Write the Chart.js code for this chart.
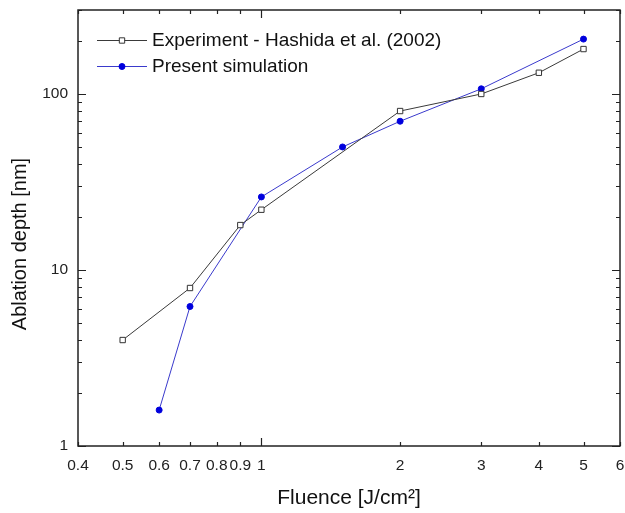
<!DOCTYPE html>
<html><head><meta charset="utf-8">
<script src="https://cdn.jsdelivr.net/npm/chart.js@4/dist/chart.umd.min.js"></script>
<style>html,body{margin:0;padding:0;background:#fff;}#wrap{width:625px;height:513px;}</style>
</head><body><div id="wrap"><canvas id="c" width="625" height="513"></canvas></div>
<script>
// ---- data ----
const expFluence = [0.5, 0.7, 0.9, 1, 2, 3, 4, 5];
const expDepth   = [4, 7.9, 18, 22, 80, 100, 132, 180];
const simFluence = [0.6, 0.7, 1, 1.5, 2, 3, 5];
const simDepth   = [1.6, 6.2, 26, 50, 70, 107, 205];
const seriesNames = ['Experiment - Hashida et al. (2002)', 'Present simulation'];
const xTickLabels = [0.4, 0.5, 0.6, 0.7, 0.8, 0.9, 1, 2, 3, 4, 5, 6];
const yTickLabels = [1, 10, 100];
const xMajorTicks = [1];
const xMinorTicks = [0.4, 0.5, 0.6, 0.7, 0.8, 0.9, 2, 3, 4, 5, 6];
const yMajorTicks = [1, 10, 100];
const yMinorTicks = [2, 3, 4, 5, 6, 7, 8, 9, 20, 30, 40, 50, 60, 70, 80, 90, 200, 300];
const xTitle = 'Fluence [J/cm\u00B2]';
const yTitle = 'Ablation depth [nm]';
const xMin = 0.4, xMax = 6, yMin = 1, yMax = 300;

const FONT = "'Liberation Sans', Arial, sans-serif";

const framePlugin = {
  id: 'frame',
  afterDatasetsDraw(chart) {
    const {ctx, chartArea: a, scales: {x, y}} = chart;
    ctx.save();
    ctx.strokeStyle = '#222';
    ctx.lineWidth = 1.5;
    ctx.strokeRect(a.left, a.top, a.right - a.left, a.bottom - a.top);
    ctx.lineWidth = 1.2;
    ctx.beginPath();
    const xt = (vals, len) => vals.forEach(v => {
      const px = Math.round(x.getPixelForValue(v)) + 0.5;
      ctx.moveTo(px, a.bottom); ctx.lineTo(px, a.bottom - len);
      ctx.moveTo(px, a.top); ctx.lineTo(px, a.top + len);
    });
    const yt = (vals, len) => vals.forEach(v => {
      const py = Math.round(y.getPixelForValue(v)) + 0.5;
      ctx.moveTo(a.left, py); ctx.lineTo(a.left + len, py);
      ctx.moveTo(a.right, py); ctx.lineTo(a.right - len, py);
    });
    xt(xMajorTicks, 8); xt(xMinorTicks, 4);
    yt(yMajorTicks, 8); yt(yMinorTicks, 4);
    ctx.stroke();
    ctx.restore();
  },
  afterDraw(chart) {
    const {ctx} = chart;
    ctx.save();
    chart.data.datasets.forEach((ds, i) => {
      const yy = 40 + 26 * i;
      ctx.strokeStyle = ds.borderColor;
      ctx.lineWidth = 1;
      ctx.beginPath(); ctx.moveTo(97, yy + 0.5); ctx.lineTo(147, yy + 0.5); ctx.stroke();
      ctx.fillStyle = ds.pointBackgroundColor;
      ctx.strokeStyle = ds.pointBorderColor;
      ctx.lineWidth = ds.pointBorderWidth;
      Chart.helpers.drawPoint(ctx, {pointStyle: ds.pointStyle, radius: ds.pointRadius, borderWidth: ds.pointBorderWidth, rotation: 0}, 122, yy + 0.5);
      ctx.fillStyle = '#111';
      ctx.font = '19px ' + FONT;
      ctx.textAlign = 'left'; ctx.textBaseline = 'middle';
      ctx.fillText(ds.label, 152, yy + 1);
    });
    ctx.translate(20, 244);
    ctx.rotate(-Math.PI / 2);
    ctx.fillStyle = '#111';
    ctx.font = '20px ' + FONT;
    ctx.textAlign = 'center'; ctx.textBaseline = 'middle';
    ctx.fillText(yTitle, 0, 0);
    ctx.restore();
  }
};

new Chart(document.getElementById('c'), {
  type: 'line',
  data: {
    datasets: [
      {
        label: seriesNames[0],
        data: expFluence.map((v, i) => ({x: v, y: expDepth[i]})),
        borderColor: '#3a3a3a', borderWidth: 1, tension: 0,
        pointStyle: 'rect', pointRadius: 3.8,
        pointBackgroundColor: '#ffffff', pointBorderColor: '#333333', pointBorderWidth: 1
      },
      {
        label: seriesNames[1],
        data: simFluence.map((v, i) => ({x: v, y: simDepth[i]})),
        borderColor: '#3a3acc', borderWidth: 1, tension: 0,
        pointStyle: 'circle', pointRadius: 3,
        pointBackgroundColor: '#0000dd', pointBorderColor: '#0000dd', pointBorderWidth: 1
      }
    ]
  },
  options: {
    responsive: false, animation: false, devicePixelRatio: 1,
    layout: {padding: {top: 10, right: 5, left: 0, bottom: 0}},
    plugins: {legend: {display: false}, tooltip: {enabled: false}},
    scales: {
      x: {
        type: 'logarithmic', position: 'bottom', min: xMin, max: xMax,
        grid: {display: false, drawTicks: false}, border: {display: false},
        afterBuildTicks: s => { s.ticks = xTickLabels.map(v => ({value: v})); },
        afterFit: s => { s.height = 67; s.paddingLeft = 0; s.paddingRight = 0; },
        ticks: {autoSkip: false, maxRotation: 0, minRotation: 0, padding: 10, color: '#222',
          font: {family: FONT, size: 15.5}, callback: v => String(v)},
        title: {display: true, text: xTitle, color: '#111', font: {family: FONT, size: 21}, padding: {top: 0, bottom: 2}}
      },
      y: {
        type: 'logarithmic', position: 'left', min: yMin, max: yMax,
        grid: {display: false, drawTicks: false}, border: {display: false},
        afterBuildTicks: s => { s.ticks = yTickLabels.map(v => ({value: v})); },
        afterFit: s => { s.width = 78; s.paddingTop = 0; s.paddingBottom = 0; },
        ticks: {autoSkip: false, padding: 10, color: '#222',
          font: {family: FONT, size: 15.5}, callback: v => String(v)}
      }
    }
  },
  plugins: [framePlugin]
});
</script></body></html>
